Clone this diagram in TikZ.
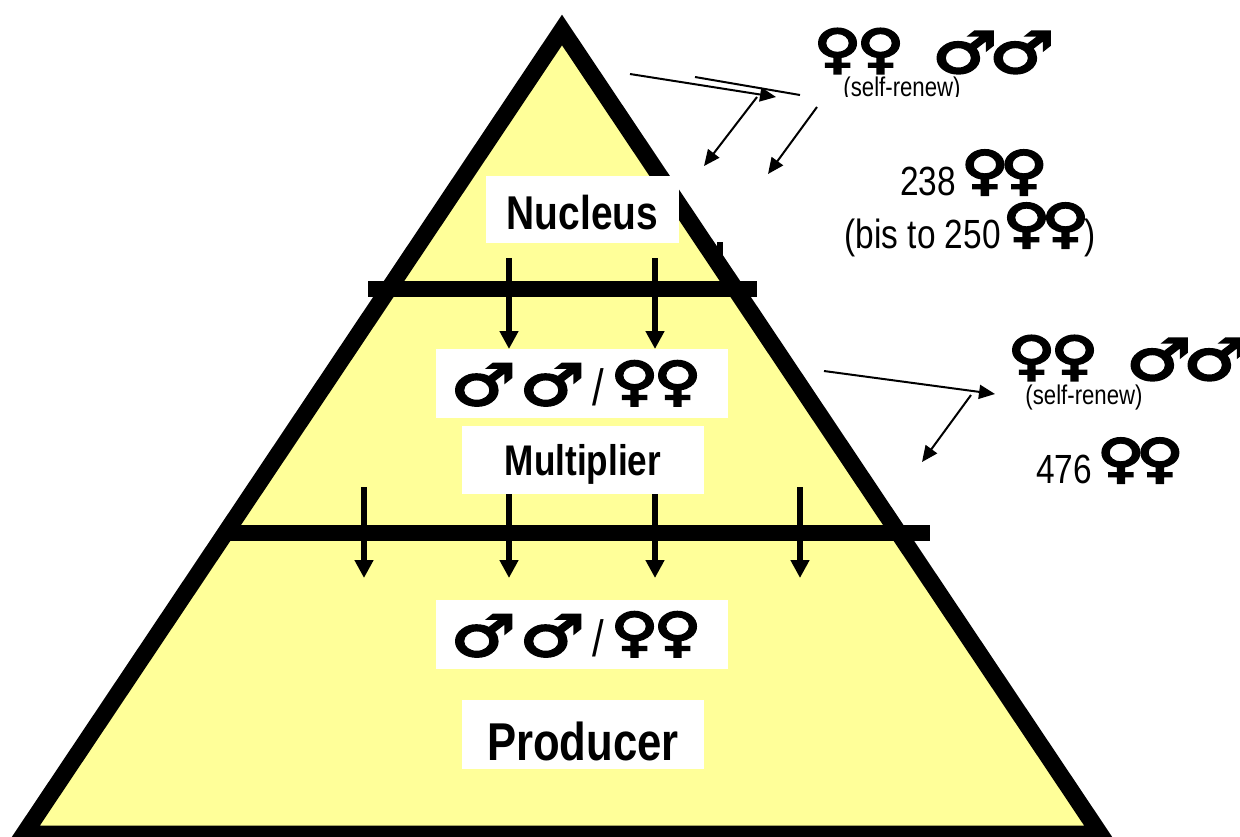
\documentclass[tikz,border=0pt]{standalone}
\usepackage{fontspec}
\usepackage{graphicx}
\setmainfont{Liberation Sans}
\newfontfamily\symfont{DejaVu Sans Bold}[FakeBold=4]
\usetikzlibrary{arrows.meta}
\definecolor{pyramid}{HTML}{FFFF99}
\newcommand{\nar}[1]{\scalebox{0.82}[1]{#1}}
\newcommand{\femsym}{\raisebox{\depth}{\resizebox*{.95cm}{.9cm}{\symfont ♀}}}
\newcommand{\malsym}{\raisebox{\depth}{\resizebox*{1.3cm}{.84cm}{\symfont ♂}}}
\newcommand{\fempair}{\femsym\hspace{-.09cm}\femsym}
\newcommand{\femtight}{\femsym\hspace{-.17cm}\femsym}
\newcommand{\malpair}{\malsym\hspace{-.16cm}\malsym}
\newcommand{\mixed}{\malsym\hspace{.08cm}\malsym\hspace{.15cm}{\fontsize{29}{32}\selectfont\nar{/}}\hspace{.14cm}\fempair\hspace{.24cm}}
\begin{document}
\begin{tikzpicture}[
  x=0.02cm, y=-0.02cm,
  edge/.style={line width=0.34cm, miter limit=10},
  bar/.style={line width=0.32cm},
  down/.style={line width=0.12cm, -{Triangle[length=0.36cm, width=0.36cm]}},
  thin/.style={line width=0.04cm, -{Triangle[length=0.32cm, width=0.28cm]}},
  plain/.style={line width=0.04cm},
  layer/.style={fill=white, inner sep=0pt, align=center},
  sym/.style={inner sep=0pt, font=\fontsize{23.2}{26}\selectfont},
  small/.style={inner sep=0pt, font=\fontsize{15.4}{18}\selectfont}
]
  \clip (0,0) rectangle (1240,836);
  % pyramid
  \draw[edge, fill=pyramid] (562,30) -- (24,834) -- (1100,834) -- cycle;
  \draw[line width=0.12cm] (720,242) -- (720,262);
  \draw[bar] (368,289) -- (757,289);
  \draw[bar] (225,533) -- (930,533);

  % arrows between the layers
  \coordinate (nuc1) at (509,258);
  \coordinate (nuc2) at (655,258);
  \coordinate (up1) at (509,349);
  \coordinate (up2) at (655,349);
  \draw[down] (nuc1) -- (up1);
  \draw[down] (nuc2) -- (up2);
  \coordinate (mul1) at (364,487);
  \coordinate (mul2) at (509,487);
  \coordinate (mul3) at (655,487);
  \coordinate (mul4) at (800,487);
  \coordinate (low1) at (364,578);
  \coordinate (low2) at (509,578);
  \coordinate (low3) at (655,578);
  \coordinate (low4) at (800,578);
  \draw[down] (mul1) -- (low1);
  \draw[down] (mul2) -- (low2);
  \draw[down] (mul3) -- (low3);
  \draw[down] (mul4) -- (low4);

  % white boxes
  \node[layer, minimum width=3.86cm, minimum height=1.34cm] (nucleus) at (582.5,209.5) {};
  \node[inner sep=0pt, font=\bfseries\fontsize{27}{30}\selectfont] (nuctext) at (582.5,212.5) {\nar{Nucleus}};
  \node[layer, minimum width=5.84cm, minimum height=1.38cm] (multsym) at (582,383.5) {\mixed};
  \node[layer, minimum width=4.84cm, minimum height=1.36cm] (multiplier) at (583,460) {};
  \node[inner sep=0pt, font=\bfseries\fontsize{24.4}{26}\selectfont] (multext) at (583,464) {\nar{Multiplier}};
  \node[layer, minimum width=5.84cm, minimum height=1.38cm] (prodsym) at (582,634.5) {\mixed};
  \node[layer, minimum width=4.84cm, minimum height=1.38cm] (producer) at (583,734.5) {};
  \node[inner sep=0pt, font=\bfseries\fontsize{30.3}{34}\selectfont] (prodtext) at (583,741) {\nar{Producer}};

  % nucleus replacement
  \node[sym] (topsym) at (934,51) {\fempair\hspace{.56cm}\malpair};
  \node[small] (toprenew) at (902,89) {\nar{(self-renew)}};
  \node[fill=white, inner sep=0pt, minimum width=3cm, minimum height=0.18cm] (topmask) at (885,101.5) {};
  \node[sym, anchor=base] (count238) at (974,195) {\nar{238}\hspace{.1cm}\femtight};
  \node[sym, anchor=base] (bis250) at (970,248) {\nar{(bis to 250}\hspace{.04cm}\femtight\hspace{-.1cm}\nar{)}};
  \coordinate (ta) at (630,74);
  \coordinate (tb) at (776,97);
  \coordinate (tc) at (695,77);
  \coordinate (td) at (800,95);
  \coordinate (te) at (757,97);
  \coordinate (tf) at (704,166);
  \coordinate (tg) at (817,107);
  \coordinate (th) at (768,174);
  \draw[thin] (ta) -- (tb);
  \draw[plain] (tc) -- (td);
  \draw[thin] (te) -- (tf);
  \draw[thin] (tg) -- (th);

  % multiplier replacement
  \node[sym] (midsym) at (1128,358) {\fempair\hspace{.56cm}\malpair};
  \node[small] (midrenew) at (1084,397) {\nar{(self-renew)}};
  \node[sym, anchor=base] (count476) at (1110,483) {\nar{476}\hspace{.1cm}\femtight};
  \coordinate (ma) at (824,371);
  \coordinate (mb) at (995,394);
  \coordinate (mc) at (971,395);
  \coordinate (md) at (922,462);
  \draw[thin] (ma) -- (mb);
  \draw[thin] (mc) -- (md);
\end{tikzpicture}
\end{document}
